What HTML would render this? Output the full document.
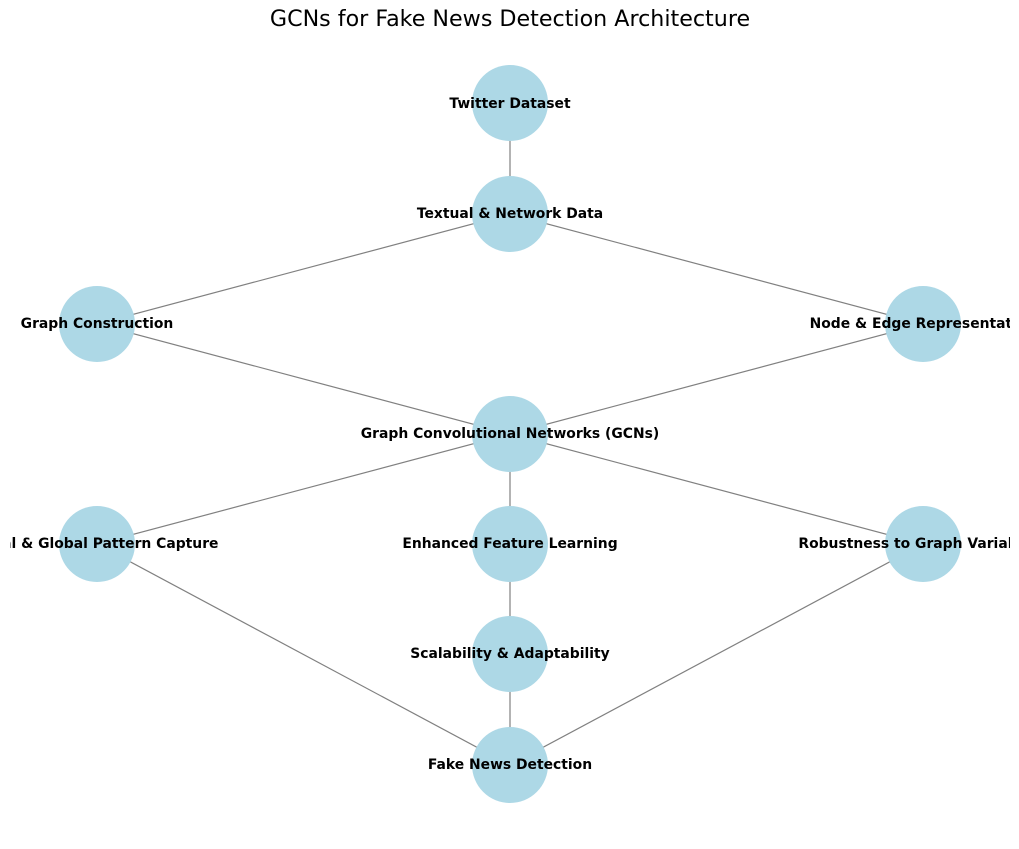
<!DOCTYPE html>
<html><head><meta charset="utf-8"><style>body{margin:0;background:#fff}</style></head><body>
<svg width="1019" height="844" xmlns="http://www.w3.org/2000/svg" font-family="DejaVu Sans, Liberation Sans, sans-serif">
<defs><clipPath id="c"><rect x="10" y="0" width="1000" height="844"/></clipPath></defs>
<text x="510" y="26" font-size="22.2" text-anchor="middle" fill="#000">GCNs for Fake News Detection Architecture</text>
<g clip-path="url(#c)">
<g stroke="#808080" stroke-width="1.2">
<line x1="510" y1="103" x2="510" y2="214"/>
<line x1="510" y1="214" x2="97" y2="324"/>
<line x1="510" y1="214" x2="923" y2="324"/>
<line x1="97" y1="324" x2="510" y2="434"/>
<line x1="923" y1="324" x2="510" y2="434"/>
<line x1="510" y1="434" x2="97" y2="544"/>
<line x1="510" y1="434" x2="510" y2="544"/>
<line x1="510" y1="434" x2="923" y2="544"/>
<line x1="510" y1="544" x2="510" y2="654"/>
<line x1="510" y1="654" x2="510" y2="765"/>
<line x1="97" y1="544" x2="510" y2="765"/>
<line x1="923" y1="544" x2="510" y2="765"/>
</g>
<g fill="#add8e6">
<ellipse cx="510" cy="103" rx="38" ry="38"/>
<ellipse cx="510" cy="214" rx="38" ry="38"/>
<ellipse cx="97" cy="324" rx="38" ry="38"/>
<ellipse cx="923" cy="324" rx="38" ry="38"/>
<ellipse cx="510" cy="434" rx="38" ry="38"/>
<ellipse cx="97" cy="544" rx="38" ry="38"/>
<ellipse cx="510" cy="544" rx="38" ry="38"/>
<ellipse cx="923" cy="544" rx="38" ry="38"/>
<ellipse cx="510" cy="654" rx="38" ry="38"/>
<ellipse cx="510" cy="765" rx="38" ry="38"/>
</g>
<g font-size="13.9" font-weight="bold" text-anchor="middle" fill="#000">
<text x="510" y="108">Twitter Dataset</text>
<text x="510" y="218">Textual &amp; Network Data</text>
<text x="97" y="328">Graph Construction</text>
<text x="923" y="328">Node &amp; Edge Representation</text>
<text x="510" y="438">Graph Convolutional Networks (GCNs)</text>
<text x="97" y="548">Local &amp; Global Pattern Capture</text>
<text x="510" y="548">Enhanced Feature Learning</text>
<text x="923" y="548">Robustness to Graph Variability</text>
<text x="510" y="658">Scalability &amp; Adaptability</text>
<text x="510" y="769">Fake News Detection</text>
</g>
</g>
</svg>
</body></html>
